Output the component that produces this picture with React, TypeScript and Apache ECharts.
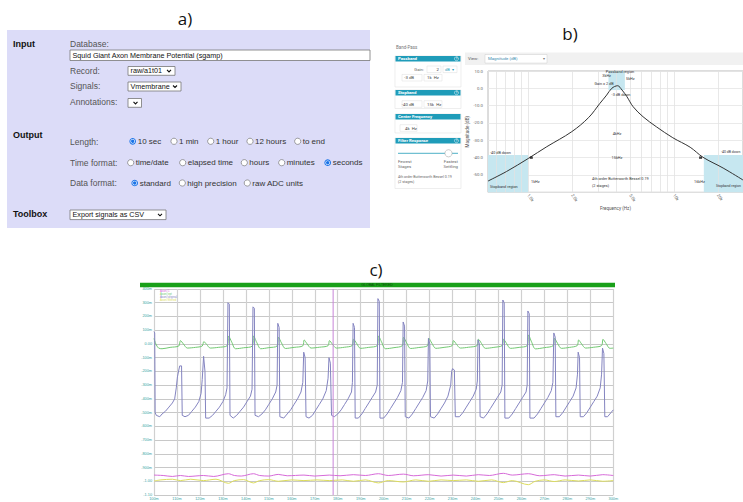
import React, { useEffect, useRef } from "react";
import * as echarts from "echarts";

// ---------------- panel b : band-pass magnitude response ----------------
const filterFreqHz = [530, 710, 1000, 1340, 1990, 2600, 3100, 3450, 3740, 4100, 4400, 4750, 5240, 6130, 7600, 9800, 12900, 15800, 21700, 29700];
const filterGainDb = [-53.5, -48, -40.5, -33.7, -25, -16.8, -8.7, -3.9, 0, 1.5, -1.0, -4.8, -10.6, -16.4, -22.3, -28.5, -34, -39.8, -46, -52.9];
const freqLabelHz = [1000, 2000, 5000, 10000, 20000];
const freqGridHz = [600, 700, 800, 900, 1000, 2000, 3000, 4000, 5000, 6000, 7000, 8000, 9000, 10000, 20000];
const stopbandLeftHz = [530, 1000];
const stopbandRightHz = [16000, 29700];
const passbandHz = [3550, 4600];
const stopbandTopDb = -38.5;
const passbandBottomDb = -1;
const edgeMarkers = [[1050, -40], [15200, -40]];

// ---------------- panel c : squid axon traces (time ms, volts) ----------------
const timeTicksMs = [100, 300];
const cursorMs = 178;
const vMembrane = [
  [100, 0.09], [100.3, 0.08], [100.5, -0.5], [101, -0.52], [102.5, -0.53], [103.5, -0.51], [105, -0.49], [106.5, -0.46], [108, -0.43], [109, -0.4], [109.7, -0.32], [110.2, -0.24], [110.8, -0.19], [111.2, -0.16], [112, -0.16], [112.3, -0.52],
  [113.5, -0.53], [115, -0.52], [116.5, -0.49], [118, -0.46], [119.5, -0.42], [120.5, -0.36], [121, -0.26], [121.6, -0.09], [122.2, -0.2], [122.5, -0.54],
  [124, -0.54], [125.5, -0.52], [127, -0.49], [128.5, -0.46], [130, -0.42], [131.2, -0.37], [131.8, -0.32], [132.2, 0.3], [132.8, 0.29], [133.1, -0.52],
  [134.5, -0.54], [136, -0.52], [137.5, -0.49], [139, -0.46], [140.5, -0.42], [142, -0.38], [142.7, -0.33], [143.1, 0.27], [143.7, 0.26], [144, -0.52],
  [145.5, -0.53], [147, -0.51], [148.5, -0.48], [150, -0.44], [151.5, -0.4], [153, -0.35], [153.6, -0.3], [153.9, 0.15], [154.5, 0.12], [154.8, -0.53],
  [156.5, -0.54], [158, -0.51], [159.5, -0.48], [161, -0.44], [162.5, -0.4], [164, -0.35], [164.8, -0.28], [165.2, -0.06], [165.8, -0.1], [166.2, -0.53],
  [167.5, -0.54], [169, -0.52], [170.5, -0.48], [172, -0.44], [173.5, -0.4], [175, -0.34], [175.8, -0.25], [176.2, -0.1], [176.8, -0.14], [177.3, -0.52],
  [178.5, -0.53], [180, -0.51], [181.5, -0.48], [183, -0.44], [184.5, -0.4], [186, -0.35], [186.4, -0.28], [186.7, 0.15], [187.3, 0.12], [187.6, -0.54],
  [189, -0.54], [190.5, -0.51], [192, -0.47], [193.5, -0.43], [195, -0.39], [196.5, -0.35], [197.2, -0.3], [197.5, 0.33], [198.1, 0.31], [198.4, -0.54],
  [200, -0.54], [201.5, -0.51], [203, -0.47], [204.5, -0.43], [206, -0.39], [207.5, -0.34], [208.2, -0.28], [208.5, 0.16], [209.1, 0.13], [209.4, -0.53],
  [211, -0.54], [212.5, -0.51], [214, -0.47], [215.5, -0.43], [217, -0.39], [218.5, -0.34], [219.2, -0.27], [219.5, 0.04], [220.1, 0.0], [220.4, -0.53],
  [222, -0.54], [223.5, -0.51], [225, -0.47], [226.5, -0.43], [228, -0.38], [229.2, -0.3], [229.6, -0.2], [230, -0.18], [230.8, -0.19], [231.2, -0.53],
  [233, -0.53], [234.5, -0.5], [236, -0.46], [237.5, -0.42], [239, -0.38], [240.3, -0.33], [240.8, -0.27], [241.1, 0.03], [241.7, 0.0], [242, -0.53],
  [243.5, -0.54], [245, -0.51], [246.5, -0.47], [248, -0.43], [249.5, -0.39], [251, -0.35], [251.6, -0.3], [251.9, 0.32], [252.5, 0.3], [252.8, -0.54],
  [254.5, -0.54], [256, -0.51], [257.5, -0.47], [259, -0.43], [260.5, -0.39], [262, -0.35], [262.5, -0.3], [262.8, 0.24], [263.4, 0.22], [263.7, -0.54],
  [265.5, -0.54], [267, -0.51], [268.5, -0.47], [270, -0.43], [271.5, -0.39], [273, -0.34], [273.7, -0.28], [274.1, 0.08], [274.7, 0.05], [275, -0.53],
  [276.5, -0.53], [278, -0.5], [279.5, -0.46], [281, -0.42], [282.5, -0.38], [283.8, -0.32], [284.4, -0.22], [284.7, -0.06], [285.3, -0.1], [285.6, -0.53],
  [287, -0.53], [288.5, -0.5], [290, -0.46], [291.5, -0.42], [293, -0.38], [294.3, -0.32], [294.9, -0.22], [295.3, -0.03], [295.9, -0.07], [296.3, -0.53],
  [297.5, -0.53], [299, -0.5], [300, -0.48],
];
const vGreen = [
  [100, 0.04], [100.8, 0.0], [102, -0.03], [103.5, -0.035], [107, -0.025], [110.8, -0.015],
  [111.5, 0.024], [112.8, 0.0], [114.5, -0.03], [118, -0.025], [121, -0.015],
  [121.7, 0.017], [123, -0.005], [124.5, -0.03], [128, -0.025], [131.9, -0.012],
  [132.5, 0.058], [133.8, 0.015], [135.5, -0.035], [139, -0.028], [142.8, -0.015],
  [143.4, 0.058], [144.7, 0.012], [146.5, -0.035], [150, -0.027], [153.6, -0.015],
  [154.2, 0.048], [155.5, 0.008], [157.2, -0.033], [161, -0.025], [164.8, -0.014],
  [165.4, 0.029], [166.7, 0.0], [168.4, -0.03], [172, -0.024], [175.8, -0.013],
  [176.4, 0.024], [177.7, -0.002], [179.4, -0.03], [183, -0.024], [186.3, -0.012],
  [186.9, 0.034], [188.2, 0.005], [189.9, -0.032], [193.5, -0.025], [197.2, -0.012],
  [197.8, 0.058], [199.1, 0.014], [200.8, -0.035], [204.5, -0.027], [208.1, -0.013],
  [208.7, 0.048], [210, 0.008], [211.7, -0.033], [215.3, -0.026], [219.1, -0.013],
  [219.7, 0.041], [221, 0.005], [222.7, -0.032], [226.3, -0.025], [229.8, -0.013],
  [230.4, 0.024], [231.7, -0.002], [233.4, -0.03], [237, -0.024], [240.7, -0.012],
  [241.3, 0.034], [242.6, 0.004], [244.3, -0.032], [248, -0.025], [251.6, -0.012],
  [252.2, 0.034], [253.5, 0.004], [255.2, -0.032], [259, -0.025], [262.5, -0.012],
  [263.1, 0.065], [264.4, 0.015], [266.1, -0.036], [270, -0.027], [273.8, -0.013],
  [274.4, 0.041], [275.7, 0.005], [277.4, -0.032], [281, -0.025], [284.3, -0.012],
  [284.9, 0.029], [286.2, 0.0], [287.9, -0.03], [291.5, -0.024], [294.9, -0.012],
  [295.5, 0.034], [296.8, 0.004], [298.5, -0.032], [300, -0.03],
];
const vPink = [
  [100, -0.955], [104, -0.958], [108, -0.965], [111.5, -0.958], [115, -0.965], [121.5, -0.958], [126, -0.965], [132.4, -0.945], [135, -0.958], [138, -0.962],
  [143.3, -0.945], [146, -0.958], [150, -0.962], [154.1, -0.95], [158, -0.96], [165.3, -0.955], [170, -0.962], [176.3, -0.955], [181, -0.96], [186.8, -0.952],
  [192, -0.958], [197.7, -0.945], [202, -0.958], [208.6, -0.948], [213, -0.96], [219.6, -0.952], [225, -0.962], [230.3, -0.955], [236, -0.962], [241.2, -0.952],
  [246, -0.958], [252.1, -0.942], [256, -0.955], [263, -0.945], [268, -0.96], [274.3, -0.952], [279, -0.962], [284.8, -0.955], [290, -0.962], [295.4, -0.952], [300, -0.958],
];
const vYellow = [
  [100, -0.998], [103, -0.99], [108, -0.985], [111.5, -0.995], [116, -0.985], [121.5, -0.995], [127, -0.985], [132.4, -1.015], [135, -0.995], [139, -0.988],
  [143.3, -1.012], [146, -0.995], [150, -0.988], [154.1, -1.0], [160, -0.99], [165.3, -0.995], [171, -0.99], [176.3, -0.995], [182, -0.99], [186.8, -1.0],
  [192, -0.99], [197.7, -1.012], [202, -0.995], [208.6, -1.005], [214, -0.99], [219.6, -1.0], [225, -0.99], [230.3, -0.995], [236, -0.99], [241.2, -1.0],
  [247, -0.99], [252.1, -1.01], [256, -0.995], [263, -1.025], [266, -1.0], [270, -0.99], [274.3, -1.002], [279, -0.99], [284.8, -0.998], [290, -0.99], [295.4, -1.0], [300, -0.995],
];
const cursorTrace = [[cursorMs, -1.1], [cursorMs, 0.4]];
const traceNames = ["Axon#1", "Axon#ept", "Axon#original", "Axon#filtered"];
const traceColors = ["#d66ad8", "#72c872", "#8484c0", "#dcdc5c"];

// ---------------- panel a : form texts ----------------
const lengthOptions = ["10 sec", "1 min", "1 hour", "12 hours", "to end"];
const timeOptions = ["time/date", "elapsed time", "hours", "minutes", "seconds"];
const dataOptions = ["standard", "high precision", "raw ADC units"];

const SANS = "Liberation Sans";
const TITLE_FONT = "Open Sans";

function txt(x: number, y: number, text: string, o: any = {}) {
  return {
    type: "text",
    x,
    y,
    silent: true,
    z: o.z ?? 10,
    style: {
      text,
      fill: o.fill ?? "#333",
      fontSize: o.size ?? 8,
      fontFamily: o.family ?? SANS,
      fontWeight: o.weight ?? "normal",
      textAlign: o.align ?? "left",
      textVerticalAlign: "middle",
      align: o.align ?? "left",
      verticalAlign: "middle",
    },
  };
}
function rect(x: number, y: number, w: number, h: number, fill: string, stroke?: string, lw = 0.8, z = 5) {
  return { type: "rect", silent: true, z, shape: { x, y, width: w, height: h }, style: { fill, stroke: stroke ?? null, lineWidth: lw } };
}
function circ(cx: number, cy: number, r: number, fill: string, stroke?: string, lw = 0.8, z = 8) {
  return { type: "circle", silent: true, z, shape: { cx, cy, r }, style: { fill, stroke: stroke ?? null, lineWidth: lw } };
}
function select(x: number, y: number, w: number, h: number, text: string, size = 7.2) {
  const cy = y + h / 2;
  return [
    rect(x, y, w, h, "#ffffff", "#767676", 0.8, 6),
    txt(x + 2.5, cy, text, { size, fill: "#111" }),
    {
      type: "polyline",
      silent: true,
      z: 9,
      shape: { points: [[x + w - 8, cy - 1], [x + w - 6, cy + 1], [x + w - 4, cy - 1]] },
      style: { stroke: "#111", fill: "none", lineWidth: 1.1 },
    },
  ];
}
function radio(cx: number, cy: number, label: string, checked: boolean) {
  const els: any[] = [];
  if (checked) {
    els.push(circ(cx, cy, 3.3, "#1a73e8"));
    els.push(circ(cx, cy, 2.3, "#ffffff", undefined, 0, 9));
    els.push(circ(cx, cy, 1.7, "#1a73e8", undefined, 0, 10));
  } else {
    els.push(circ(cx, cy, 3.1, "#ffffff", "#777777", 0.7));
  }
  els.push(txt(cx + 5, cy, label, { size: 8, fill: "#333" }));
  return els;
}

function buildGraphics() {
  const g: any[] = [];
  // titles
  g.push(txt(185, 18, "a)", { size: 17, family: TITLE_FONT, fill: "#111", align: "center" }));
  g.push(txt(570, 33, "b)", { size: 17, family: TITLE_FONT, fill: "#111", align: "center" }));
  g.push(txt(376, 269, "c)", { size: 17, family: TITLE_FONT, fill: "#111", align: "center" }));

  // ---- panel a ----
  g.push(rect(7, 30, 363, 198, "#dcdcf8", undefined, 0, 1));
  g.push(txt(13, 43.5, "Input", { size: 9, weight: "bold", fill: "#111" }));
  g.push(txt(70, 43.5, "Database:", { size: 8.5, fill: "#555" }));
  g.push(...select(70, 50, 300, 10.5, "Squid Giant Axon Membrane Potential (sgamp)").slice(0, 2));
  g.push(txt(70, 70.7, "Record:", { size: 8.5, fill: "#555" }));
  g.push(...select(128, 66.5, 47, 8.8, "raw/a1t01"));
  g.push(txt(70, 86.3, "Signals:", { size: 8.5, fill: "#555" }));
  g.push(...select(128, 82, 53, 9, "Vmembrane"));
  g.push(txt(70, 102.3, "Annotations:", { size: 8.5, fill: "#555" }));
  g.push(...select(128, 98.5, 13.5, 8.8, ""));
  g.push(txt(13, 135, "Output", { size: 9, weight: "bold", fill: "#111" }));
  g.push(txt(70, 141.5, "Length:", { size: 8.5, fill: "#555" }));
  const lenX = [132.7, 174, 210.7, 250, 297.7];
  lengthOptions.forEach((l, i) => g.push(...radio(lenX[i], 141.3, l, i === 0)));
  g.push(txt(70, 162.8, "Time format:", { size: 8.5, fill: "#555" }));
  const timeX = [130.7, 182.7, 244.3, 281.7, 327.7];
  timeOptions.forEach((l, i) => g.push(...radio(timeX[i], 162.7, l, i === 4)));
  g.push(txt(70, 183.2, "Data format:", { size: 8.5, fill: "#555" }));
  const dataX = [134.7, 182.3, 247.3];
  dataOptions.forEach((l, i) => g.push(...radio(dataX[i], 183, l, i === 0)));
  g.push(txt(13, 214.2, "Toolbox", { size: 9, weight: "bold", fill: "#111" }));
  g.push(...select(70, 210, 96, 9.6, "Export signals as CSV"));

  // ---- panel b side bar ----
  const teal = "#1f9cb9";
  const SB = "Roboto";
  g.push(txt(396, 47, "Band-Pass", { size: 4.5, fill: "#777", family: SB }));
  const boxes: [number, number, string][] = [
    [56, 31, "Passband"],
    [90, 18.5, "Stopband"],
    [114, 19, "Center Frequency"],
    [138, 50.5, "Filter Response"],
  ];
  boxes.forEach(([y, h, title], i) => {
    g.push(rect(395, y, 66, h, "#ffffff", "#e2e2e2", 0.6, 3));
    g.push(rect(395.5, y, 65, 5.4, teal, undefined, 0, 4));
    g.push(txt(398, y + 2.8, title, { size: 4.3, fill: "#fff", weight: "bold", family: SB }));
    if (i !== 2) {
      g.push(circ(456.5, y + 2.7, 2, "none", "#ffffff", 0.5, 9));
      g.push(txt(456.5, y + 2.8, "?", { size: 3.4, fill: "#fff", align: "center", family: SB }));
    }
  });
  const inBox = (x: number, y: number, w: number) => g.push(rect(x, y - 3.3, w, 6.6, "#ffffff", "#dddddd", 0.5, 6));
  g.push(txt(424, 69.3, "Gain:", { size: 4.3, fill: "#666", align: "right", family: SB }));
  inBox(427, 69.3, 14);
  g.push(txt(439, 69.3, "2", { size: 4.3, fill: "#333", align: "right", family: SB }));
  inBox(443, 69.3, 14);
  g.push(txt(445, 69.3, "dB  ▾", { size: 4, fill: teal, family: SB }));
  inBox(402, 77.7, 20);
  g.push(txt(414, 77.7, "-3 dB", { size: 4.3, fill: "#444", align: "right", family: SB }));
  inBox(424, 77.7, 18);
  g.push(txt(427, 77.7, "1k  Hz", { size: 4.3, fill: "#444", family: SB }));
  inBox(402, 104, 20);
  g.push(txt(414, 104, "-40 dB", { size: 4.3, fill: "#444", align: "right", family: SB }));
  inBox(424, 104, 18);
  g.push(txt(427, 104, "15k  Hz", { size: 4.3, fill: "#444", family: SB }));
  inBox(400, 128, 17);
  g.push(txt(405, 128, "4k  Hz", { size: 4.3, fill: "#444", family: SB }));
  g.push({ type: "line", silent: true, z: 7, shape: { x1: 398, y1: 153.3, x2: 458, y2: 153.3 }, style: { stroke: teal, lineWidth: 0.8 } });
  g.push(circ(448.5, 153.3, 3.6, "#ffffff", "#aaaaaa", 0.6, 9));
  g.push(txt(398, 161.7, "Fewest", { size: 4.3, fill: "#666", family: SB }));
  g.push(txt(458, 161.7, "Fastest", { size: 4.3, fill: "#666", align: "right", family: SB }));
  g.push(txt(398, 166.8, "Stages", { size: 4.3, fill: "#666", family: SB }));
  g.push(txt(458, 166.8, "Settling", { size: 4.3, fill: "#666", align: "right", family: SB }));
  g.push(txt(398, 177, "4th order Butterworth Bessel 0.19", { size: 3.6, fill: "#666", family: SB }));
  g.push(txt(398, 182, "(2 stages)", { size: 3.6, fill: "#666", family: SB }));

  // view bar
  g.push(rect(465, 52.5, 280, 12.5, "#f1f1f1", undefined, 0, 2));
  g.push(txt(468, 58.8, "View:", { size: 4.3, fill: "#555", family: SB }));
  g.push(rect(485, 54.5, 62, 8.6, "#ffffff", "#cccccc", 0.5, 4));
  g.push(txt(488, 58.8, "Magnitude (dB)", { size: 4.3, fill: "#3b8bb0", family: SB }));
  g.push(txt(543, 58.8, "▾", { size: 4, fill: "#777", family: SB }));

  // annotations in plot b
  const an = (x: number, y: number, t: string, al = "left", size = 3.8) => g.push(txt(x, y, t, { size, fill: "#333", align: al, family: SB, z: 20 }));
  an(620, 71.5, "Passband region", "center");
  an(611, 75.5, "3kHz", "right");
  an(626, 78.5, "5kHz");
  an(604, 83, "Gain = 2 dB", "center");
  an(621, 94, "-3 dB down", "center");
  an(617, 133, "4kHz", "center");
  an(617, 157, "15kHz", "center");
  an(490, 152, "-40 dB down");
  an(531, 181.5, "1kHz");
  an(490, 186, "Stopband region");
  an(592, 178, "4th order Butterworth Bessel 0.19");
  an(592, 185, "(2 stages)");
  an(694, 181.5, "16kHz");
  an(721, 152, "-40 dB down", "left", 3.5);
  an(716, 186, "Stopband region", "left", 3.4);

  // ---- panel c header bar ----
  g.push(rect(140, 282.7, 475, 4.6, "#19a019", undefined, 0, 2));
  g.push(txt(377, 285, "GLOBAL FILTERED", { size: 3.5, fill: "#0b500b", align: "center", z: 12 }));
  return g;
}

export default function App() {
  const ref = useRef<HTMLDivElement>(null);
  useEffect(() => {
    if (!ref.current) return;
    const chart = echarts.init(ref.current, undefined, { renderer: "svg" });
    const filterData = filterFreqHz.map((f, i) => [f, filterGainDb[i]]);
    const fmtFreq = (v: number) => (v >= 10000 ? v / 1000 + "k" : (v / 1000).toFixed(1) + "k");
    const fmtVolt = (v: number) => {
      if (Math.abs(v) < 1e-6) return "0.00";
      if (Math.abs(v) >= 0.999) return v.toFixed(2);
      return Math.round(v * 1000) + "m";
    };
    const shade = { color: "#c6e7f0", opacity: 1 };
    const option: any = {
      animation: false,
      backgroundColor: "#ffffff",
      textStyle: { fontFamily: SANS },
      graphic: { elements: buildGraphics() },
      legend: {
        show: true,
        orient: "vertical",
        left: 155,
        top: 289,
        itemWidth: 0,
        itemHeight: 0,
        itemGap: 0,
        padding: 0,
        icon: "rect",
        selectedMode: false,
        data: traceNames.map((n, i) => ({ name: n, textStyle: { color: traceColors[i], fontSize: 2.8, lineHeight: 2.7, padding: 0 } })),
      },
      grid: [
        { left: 488, right: 0, top: 71, height: 121.3, show: true, borderColor: "#a8a8a8", borderWidth: 0.8, backgroundColor: "#ffffff" },
        { left: 154, right: 129.7, top: 289, height: 206, show: false },
      ],
      xAxis: [
        {
          gridIndex: 0,
          type: "log",
          logBase: 10,
          min: 530,
          max: 29700,
          axisLine: { show: false },
          axisTick: { show: false },
          splitLine: { show: false },
          axisLabel: { customValues: freqLabelHz, formatter: fmtFreq, rotate: -55, fontSize: 4.3, color: "#666", margin: 2, fontFamily: "Roboto" },
          name: "Frequency (Hz)",
          nameLocation: "middle",
          nameGap: 14,
          nameTextStyle: { fontSize: 4.6, color: "#555", fontFamily: "Roboto" },
        },
        {
          gridIndex: 1,
          type: "value",
          min: timeTicksMs[0],
          max: timeTicksMs[1],
          interval: 10,
          axisLine: { show: false },
          axisTick: { show: false },
          splitLine: { show: true, lineStyle: { color: "#d0d0d0", width: 1.2 } },
          axisLabel: { formatter: (v: number) => v + "m", fontSize: 3.8, color: "#3aa4a4", margin: 2 },
        },
      ],
      yAxis: [
        {
          gridIndex: 0,
          type: "value",
          min: -60,
          max: 10,
          interval: 10,
          axisLine: { show: false },
          axisTick: { show: false },
          splitLine: { show: true, lineStyle: { color: "#e4e4e4", width: 0.8 } },
          axisLabel: { formatter: (v: number) => v.toFixed(1), fontSize: 4.3, color: "#666", margin: 5, showMinLabel: false, fontFamily: "Roboto" },
          name: "Magnitude (dB)",
          nameLocation: "middle",
          nameGap: 16,
          nameTextStyle: { fontSize: 4.6, color: "#555", fontFamily: "Roboto" },
        },
        {
          gridIndex: 1,
          type: "value",
          min: -1.1,
          max: 0.4,
          interval: 0.1,
          axisLine: { show: false },
          axisTick: { show: false },
          splitLine: { show: true, lineStyle: { color: "#c8c8c8", width: 1 } },
          axisLabel: { formatter: fmtVolt, fontSize: 3.8, color: "#3aa4a4", margin: 2 },
        },
      ],
      series: [
        {
          type: "line",
          xAxisIndex: 0,
          yAxisIndex: 0,
          data: filterData,
          smooth: 0.35,
          showSymbol: false,
          z: 5,
          lineStyle: { color: "#333333", width: 1 },
          markArea: {
            silent: true,
            itemStyle: shade,
            data: [
              [{ xAxis: stopbandLeftHz[0], yAxis: stopbandTopDb }, { xAxis: stopbandLeftHz[1], yAxis: -60 }],
              [{ xAxis: stopbandRightHz[0], yAxis: stopbandTopDb }, { xAxis: stopbandRightHz[1], yAxis: -60 }],
              [{ xAxis: passbandHz[0], yAxis: passbandBottomDb }, { xAxis: passbandHz[1], yAxis: 10 }],
            ],
          },
          markLine: {
            silent: true,
            symbol: "none",
            label: { show: false },
            lineStyle: { color: "#e2e2e2", width: 0.8, type: "solid" },
            data: freqGridHz.map((f) => ({ xAxis: f })),
          },
        },
        {
          type: "scatter",
          xAxisIndex: 0,
          yAxisIndex: 0,
          data: edgeMarkers,
          symbol: "rect",
          symbolSize: [3, 2.4],
          itemStyle: { color: "#111" },
          z: 6,
        },
        {
          name: "cursor",
          type: "line",
          xAxisIndex: 1,
          yAxisIndex: 1,
          data: cursorTrace,
          showSymbol: false,
          z: 7,
          itemStyle: { color: "#c784d8" },
          lineStyle: { color: "#c784d8", width: 1 },
        },
        ...[vPink, vGreen, vMembrane, vYellow].map((d, i) => ({
          name: traceNames[i],
          type: "line",
          xAxisIndex: 1,
          yAxisIndex: 1,
          data: d,
          showSymbol: false,
          smooth: i === 2 ? false : 0.3,
          z: 5 + (i === 2 ? 1 : 0),
          itemStyle: { color: traceColors[i] },
          lineStyle: { color: traceColors[i], width: 1 },
        })),
      ],
    };
    chart.setOption(option);
    return () => chart.dispose();
  }, []);
  return <div ref={ref} style={{ position: "absolute", left: 0, top: 0, width: 743, height: 502, background: "#fff" }} />;
}
